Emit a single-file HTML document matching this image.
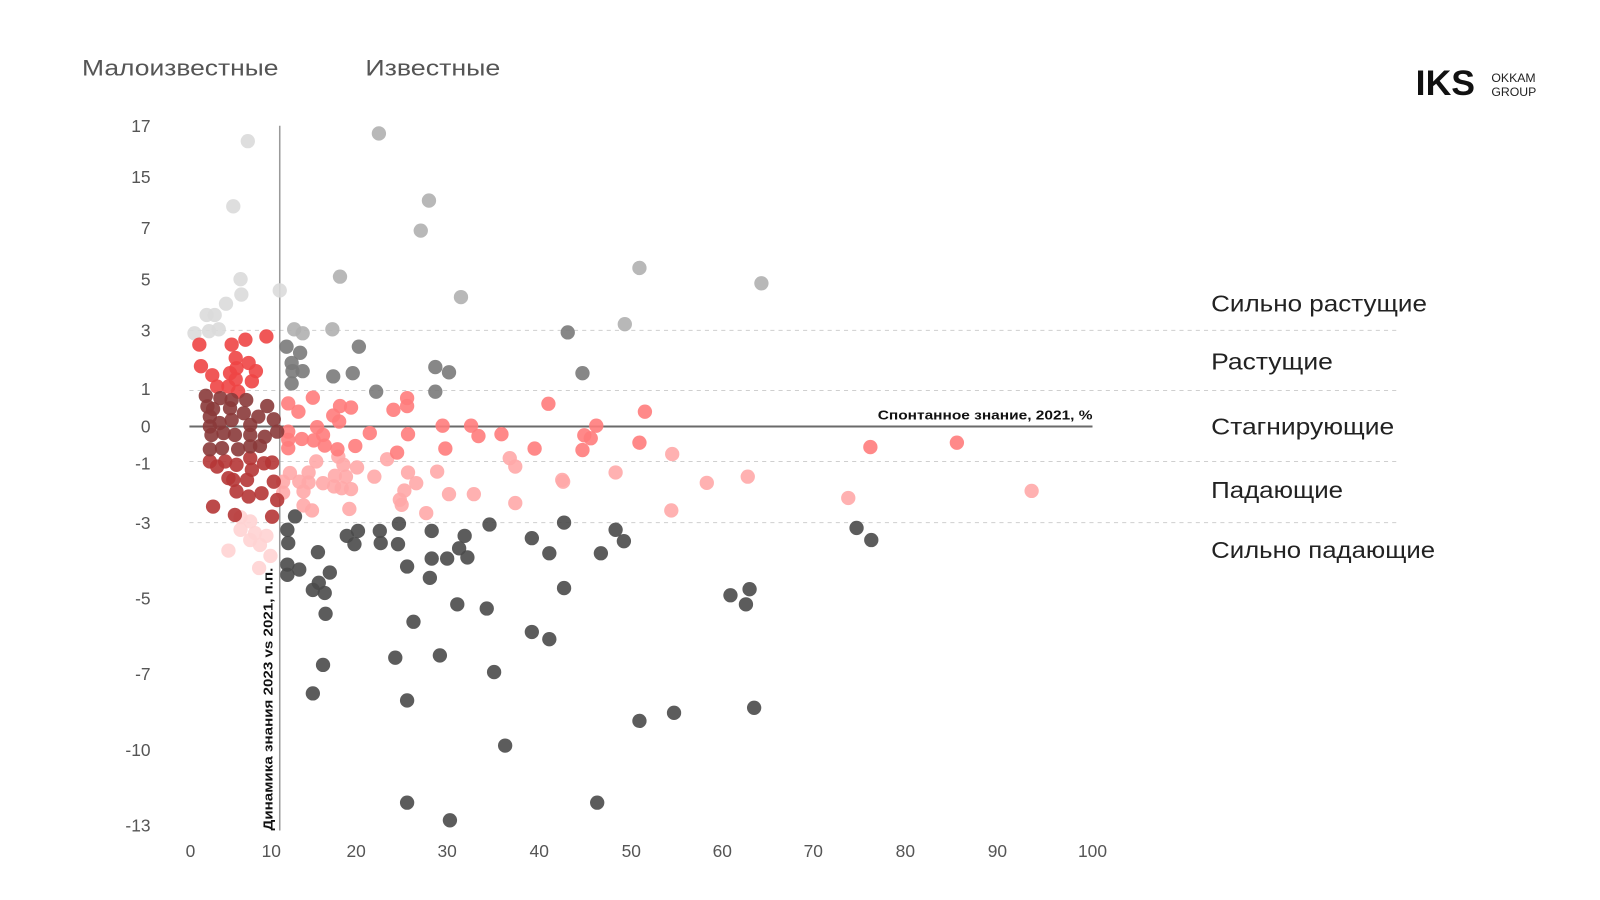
<!DOCTYPE html>
<html><head><meta charset="utf-8">
<style>
html,body{margin:0;padding:0;background:#fff;}
svg{display:block;font-family:"Liberation Sans",sans-serif;}
</style></head>
<body>
<svg id="chart" width="1600" height="900" viewBox="0 0 1564 880" xmlns="http://www.w3.org/2000/svg">
  <text x="80" y="74" font-size="22" fill="#555" textLength="192" lengthAdjust="spacingAndGlyphs">Малоизвестные</text>
  <text x="357" y="74" font-size="22" fill="#555" textLength="132" lengthAdjust="spacingAndGlyphs">Известные</text>
  <g>
    <text x="1384" y="93" font-size="34" font-weight="bold" fill="#111" textLength="58" lengthAdjust="spacingAndGlyphs">IKS</text>
    <text x="1458" y="80" font-size="12" fill="#222">OKKAM</text>
    <text x="1458" y="94" font-size="12" fill="#222">GROUP</text>
  </g>
  <g id="grid"></g>
  <g id="axes"></g>
  <g id="points"></g>
  <g id="labels"></g>
</svg>
<script>
// axis ticks
const xTickValues = [0,10,20,30,40,50,60,70,80,90,100];
const yTickValues = [17,15,7,5,3,1,0,-1,-3,-5,-7,-10,-13];
const bandLabels = ['Сильно растущие','Растущие','Стагнирующие','Падающие','Сильно падающие'];
const bandLabelValues = [4.06, 1.93, 0, -1.9, -3.72];
const gridValues = [3, 0.95, -0.95, -3];
const knownThreshold = 11;

// series: x = awareness 2021 %, y = change 2023 vs 2021 (pp)
const paleGrayX = [7.1,5.3,6.2,6.3,11.0,4.4,2.0,3.0,0.5,2.3,3.5];
const paleGrayY = [16.4,10.4,5.0,4.4,4.56,4.04,3.6,3.6,2.9,2.97,3.04];
const lightGrayX = [22.5,28.0,27.1,18.1,31.5,50.9,64.3,49.3,12.7,17.2,13.7];
const lightGrayY = [16.7,11.3,6.9,5.1,4.3,5.44,4.84,3.24,3.04,3.04,2.9];
const midGrayX = [11.8,13.4,12.4,12.5,13.7,12.4,17.3,19.6,20.3,22.2,28.7,30.2,28.7,43.1,44.7];
const midGrayY = [2.44,2.23,1.88,1.6,1.6,1.18,1.42,1.53,2.44,0.92,1.74,1.56,0.92,2.93,1.53];
const darkGrayX = [74.7,76.3,60.9,63.0,62.6,42.7,48.3,49.2,46.7,42.7,41.1,39.2,34.6,31.9,31.3,32.2,30.0,28.3,28.1,28.3,24.7,24.6,22.6,22.7,20.2,19.8,18.9,25.6,26.3,31.1,34.3,39.2,41.1,35.1,29.2,24.3,16.1,14.9,25.6,36.3,50.9,54.7,63.5,25.6,46.3,30.3,11.9,12.8,12.0,11.9,11.9,13.3,15.5,16.9,15.6,14.9,16.3,16.4];
const darkGrayY = [-3.14,-3.46,-4.92,-4.76,-5.16,-4.73,-3.19,-3.49,-3.81,-3.0,-3.81,-3.41,-3.05,-3.35,-3.68,-3.92,-3.95,-3.95,-4.46,-3.22,-3.03,-3.57,-3.22,-3.54,-3.22,-3.57,-3.35,-4.16,-5.62,-5.16,-5.27,-5.89,-6.08,-6.95,-6.51,-6.57,-6.76,-7.77,-8.05,-9.84,-8.86,-8.54,-8.34,-12.1,-12.1,-12.8,-3.19,-2.79,-3.54,-4.11,-4.38,-4.24,-3.78,-4.32,-4.59,-4.78,-4.86,-5.41];
const redX = [1.1,5.1,6.8,9.4,1.3,5.6,7.2,8.1,2.7,4.9,5.7,7.6,3.3,4.7,5.9,5.6];
const redY = [2.51,2.51,2.68,2.79,1.77,2.05,1.88,1.6,1.46,1.53,1.70,1.25,1.07,1.07,0.92,1.32];
const maroonX = [1.9,3.7,5.1,6.9,9.5,2.1,2.8,4.9,6.6,8.4,10.3,2.4,3.6,5.1,7.4,10.7,2.6,4.1,5.5,7.4,9.2,2.4,3.9,5.9,7.4,8.6,2.4];
const maroonY = [0.81,0.75,0.70,0.70,0.54,0.53,0.46,0.48,0.35,0.26,0.19,0.26,0.09,0.17,0.04,-0.14,-0.23,-0.18,-0.23,-0.23,-0.28,-0.62,-0.59,-0.62,-0.54,-0.53,0];
const darkRedX = [2.4,4.3,5.7,7.4,9.1,10.1,7.6,3.3,4.7,5.3,7.0,5.7,7.2,8.8,10.3,10.7,2.8,5.5,10.1];
const darkRedY = [-0.95,-0.95,-1.05,-0.86,-1.0,-0.98,-1.22,-1.11,-1.5,-1.56,-1.56,-1.95,-2.12,-2.01,-1.62,-2.24,-2.46,-2.74,-2.80];
const paleRedX = [6.2,7.4,6.2,8.0,9.4,7.4,8.6,9.9,4.7,8.5];
const paleRedY = [-2.82,-2.96,-3.19,-3.28,-3.35,-3.46,-3.59,-3.88,-3.74,-4.2];
const salmonX = [12.0,13.2,14.9,18.1,19.4,17.3,18.0,24.1,25.6,25.6,41.0,51.5,15.4,16.1,15.0,13.6,12.0,12.0,12.0,21.5,19.9,17.8,25.7,24.5,29.5,32.6,33.4,35.9,29.8,39.5,46.2,44.9,45.6,44.7,50.9,16.3,76.2,85.6];
const salmonY = [0.61,0.39,0.76,0.54,0.50,0.29,0.13,0.44,0.75,0.54,0.60,0.39,-0.02,-0.23,-0.38,-0.34,-0.36,-0.59,-0.14,-0.18,-0.53,-0.62,-0.21,-0.71,0.02,0.02,-0.26,-0.21,-0.6,-0.6,0.02,-0.24,-0.32,-0.64,-0.44,-0.52,-0.56,-0.44];
const lightSalmonX = [12.2,14.4,15.3,13.3,14.4,13.8,11.4,11.4,16.1,17.5,17.4,18.3,18.8,19.4,20.1,17.9,18.5,22.0,23.4,25.7,26.6,25.3,24.8,25.0,27.7,28.9,30.2,32.9,36.8,37.4,37.4,42.5,48.3,54.5,54.4,19.2,13.8,14.8,58.3,62.8,73.8,93.6,42.6];
const lightSalmonY = [-1.33,-1.31,-0.95,-1.62,-1.65,-1.95,-1.62,-1.99,-1.67,-1.42,-1.78,-1.84,-1.45,-1.87,-1.14,-0.82,-1.05,-1.45,-0.89,-1.31,-1.67,-1.92,-2.23,-2.4,-2.68,-1.28,-2.04,-2.04,-0.86,-1.11,-2.34,-1.56,-1.31,-0.75,-2.59,-2.54,-2.42,-2.59,-1.66,-1.45,-2.17,-1.93,-1.62];

// pixel anchors of the (non-linear) axes
const xPix = [186,265,348,437,527,617,706,795,885,975,1068];
const yPix = [123,173,223,273,323,380,417,453,511,585,659,733,807];

function interp(v, vals, pix){
  const asc = vals[1] > vals[0];
  for(let i=0;i<vals.length-1;i++){
    const a=vals[i], b=vals[i+1];
    const inSeg = asc ? (v>=a && v<=b) : (v<=a && v>=b);
    if(inSeg){ return pix[i] + (v-a)/(b-a)*(pix[i+1]-pix[i]); }
  }
  if(asc ? v<vals[0] : v>vals[0]){ return pix[0]+(v-vals[0])/(vals[1]-vals[0])*(pix[1]-pix[0]); }
  const n=vals.length-1; return pix[n-1]+(v-vals[n-1])/(vals[n]-vals[n-1])*(pix[n]-pix[n-1]);
}
function xScale(v){ return interp(v, xTickValues, xPix); }
function yScale(v){ return interp(v, yTickValues, yPix); }

const NS='http://www.w3.org/2000/svg';
function mk(tag, attrs, parent){ const e=document.createElementNS(NS,tag); for(const k in attrs) e.setAttribute(k, attrs[k]); parent.appendChild(e); return e; }

const grid=document.getElementById('grid');
gridValues.forEach(v=>{
  const l=mk('line',{x1:185,x2:1365,y1:yScale(v),y2:yScale(v),stroke:'#cfcfcf','stroke-width':1,'stroke-dasharray':'4 4'},grid);
  
  
});

const axes=document.getElementById('axes');
const zl=mk('line',{x1:185,x2:1068,y1:yScale(0),y2:yScale(0),stroke:'#6a6a6a','stroke-width':2},axes);


const vl=mk('line',{x1:xScale(knownThreshold),x2:xScale(knownThreshold),y1:123,y2:812,stroke:'#9a9a9a','stroke-width':1.5},axes);



yTickValues.forEach(v=>{
  const t=mk('text',{x:147,y:yScale(v)+6,'text-anchor':'end','font-size':17,fill:'#555'},axes);
  t.textContent=String(v);
  
  
});
xTickValues.forEach(v=>{
  const t=mk('text',{x:xScale(v),y:838,'text-anchor':'middle','font-size':17,fill:'#555'},axes);
  t.textContent=String(v);
  
  
});
const xt=mk('text',{x:858,y:410,'font-size':13,'font-weight':'bold',fill:'#111',textLength:210,lengthAdjust:'spacingAndGlyphs'},axes);
xt.textContent='Спонтанное знание, 2021, %';


const yt=mk('text',{x:0,y:0,'font-size':13,'font-weight':'bold',fill:'#111',textLength:257,lengthAdjust:'spacingAndGlyphs',transform:'translate(266,812) rotate(-90)'},axes);
yt.textContent='Динамика знания 2023 vs 2021, п.п.';



const bandLabelWidths = [211,119,179,129,219];
const labels=document.getElementById('labels');
bandLabels.forEach((s,i)=>{
  const t=mk('text',{x:1184,y:yScale(bandLabelValues[i])+8,'font-size':23,fill:'#222',textLength:bandLabelWidths[i],lengthAdjust:'spacingAndGlyphs'},labels);
  t.textContent=s;
  
  
});

const series=[
  [paleGrayX,paleGrayY,'#dadada','pale-gray-point'],
  [lightGrayX,lightGrayY,'#b0b0b0','light-gray-point'],
  [midGrayX,midGrayY,'#7a7a7a','mid-gray-point'],
  [darkGrayX,darkGrayY,'#4a4a4a','dark-gray-point'],
  [paleRedX,paleRedY,'#ffd3d3','pale-red-point'],
  [lightSalmonX,lightSalmonY,'#ffa9a9','light-salmon-point'],
  [salmonX,salmonY,'#ff7c7c','salmon-point'],
  [redX,redY,'#ee4545','red-point'],
  [darkRedX,darkRedY,'#b53636','dark-red-point'],
  [maroonX,maroonY,'#8a3a3a','maroon-point']
];
const pts=document.getElementById('points');
series.forEach(s=>{
  const xs=s[0], ys=s[1];
  for(let i=0;i<xs.length;i++){
    const c=mk('circle',{cx:xScale(xs[i]),cy:yScale(ys[i]),r:7,fill:s[2],'fill-opacity':0.9},pts);
    
    
  }
});
</script>
</body></html>
